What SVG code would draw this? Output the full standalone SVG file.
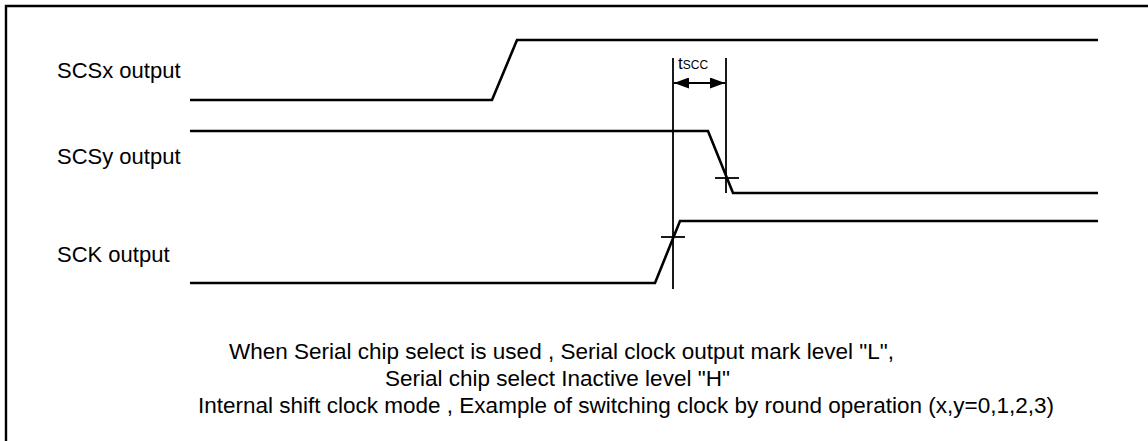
<svg xmlns="http://www.w3.org/2000/svg" width="1148" height="441" viewBox="0 0 1148 441">
<style>
  .lbl { font-family: "Liberation Sans", Arial, sans-serif; font-size: 22px; fill: #000; }
  .cap { font-family: "Liberation Sans", Arial, sans-serif; font-size: 22.5px; fill: #000; }
  .wave { fill: none; stroke: #000; stroke-width: 2.6; stroke-linejoin: miter; }
  .thin { fill: none; stroke: #000; stroke-width: 1.8; }
</style>
<defs>
  <marker id="ah" markerWidth="15" markerHeight="11" refX="15" refY="5.5" orient="auto-start-reverse" markerUnits="userSpaceOnUse">
    <path d="M0,0 L15,5.5 L0,11 Z" fill="#000"/>
  </marker>
</defs>
<rect x="0" y="0" width="1148" height="441" fill="#fff"/>
<path d="M6,441 V6 H1148" fill="none" stroke="#000" stroke-width="2.4"/>

<g id="label-scsx"><text class="lbl" x="57" y="78">SCSx output</text></g>
<g id="label-scsy"><text class="lbl" x="57" y="164">SCSy output</text></g>
<g id="label-sck"><text class="lbl" x="57" y="262">SCK output</text></g>

<g id="connectors">
  <path id="wave-scsx" class="wave" d="M190,100 H492 L517,40 H1098"/>
  <path id="wave-scsy" class="wave" d="M190,131 H708 L733,193 H1098"/>
  <path id="wave-sck" class="wave" d="M190,283 H655 L680,221 H1098"/>
  <line class="thin" x1="673" y1="58" x2="673" y2="289"/>
  <line class="thin" x1="726" y1="58" x2="726" y2="193"/>
  <line class="thin" x1="715" y1="178" x2="739" y2="178"/>
  <line class="thin" x1="661" y1="237" x2="685" y2="237"/>
  <line class="thin" x1="674" y1="83" x2="725" y2="83" stroke-width="2.4" marker-start="url(#ah)" marker-end="url(#ah)"/>
</g>

<g id="label-tscc"><text class="lbl" x="678" y="69" style="font-size:17px">t<tspan style="font-size:12px">SCC</tspan></text></g>

<g id="caption">
  <text class="cap" x="229" y="359">When Serial chip select is used , Serial clock output mark level "L",</text>
  <text class="cap" x="385" y="386">Serial chip select Inactive level "H"</text>
  <text class="cap" x="198" y="413">Internal shift clock mode , Example of switching clock by round operation (x,y=0,1,2,3)</text>
</g>
</svg>
